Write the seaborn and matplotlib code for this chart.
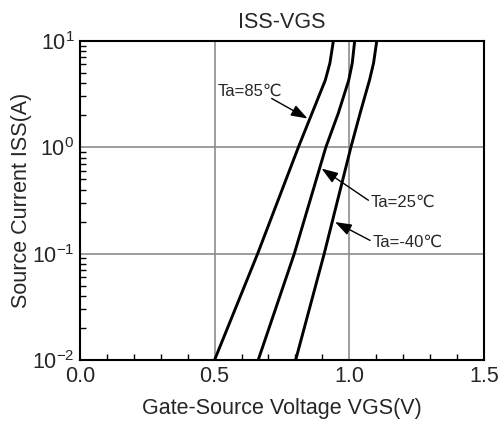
import numpy as np
import pandas as pd
import matplotlib
matplotlib.use("Agg")
import matplotlib.pyplot as plt
import seaborn as sns
from matplotlib.ticker import MultipleLocator, LogLocator, NullFormatter

# ---- data ----
temps = ["Ta=85\u2103", "Ta=25\u2103", "Ta=-40\u2103"]
i_85 = [0.01, 0.1, 1.0, 4.27, 6.17, 10.0]
v_85 = [0.500, 0.660, 0.811, 0.911, 0.928, 0.941]
i_25 = [0.01, 0.1, 1.0, 2.08, 4.27, 6.17, 10.0]
v_25 = [0.662, 0.796, 0.913, 0.959, 0.998, 1.011, 1.020]
i_m40 = [0.01, 0.1, 1.0, 2.08, 4.27, 6.17, 10.0]
v_m40 = [0.801, 0.907, 1.006, 1.040, 1.075, 1.090, 1.102]

x_ticks = [0.0, 0.5, 1.0, 1.5]
x_tick_labels = ["0.0", "0.5", "1.0", "1.5"]

title = "ISS-VGS"
xlabel = "Gate-Source Voltage VGS(V)"
ylabel = "Source Current ISS(A)"

frames = []
for t, v, i in zip(temps, [v_85, v_25, v_m40], [i_85, i_25, i_m40]):
    frames.append(pd.DataFrame({"V": v, "I": i, "T": t}))
df = pd.concat(frames, ignore_index=True)

sns.set_style("ticks")
plt.rcParams["font.family"] = ["Liberation Sans", "DejaVu Sans"]
plt.rcParams["mathtext.fontset"] = "custom"
plt.rcParams["mathtext.rm"] = "Liberation Sans"
plt.rcParams["mathtext.it"] = "Liberation Sans:italic"

fig = plt.figure(figsize=(4.99, 4.25), dpi=100)
ax = fig.add_axes([0.160, 0.153, 0.810, 0.751])

sns.lineplot(data=df, x="V", y="I", hue="T", palette=["black"] * 3,
             legend=False, sort=False, estimator=None, linewidth=2.1, ax=ax)
for ln in ax.get_lines():
    ln.set_solid_joinstyle("round")

ax.set_yscale("log")
ax.set_xlim(0, 1.5)
ax.set_ylim(1e-2, 1e1)
ax.set_xticks(x_ticks)
ax.set_xticklabels(x_tick_labels)
ax.xaxis.set_minor_locator(MultipleLocator(0.1))
ax.yaxis.set_major_locator(LogLocator(base=10))
ax.yaxis.set_minor_locator(LogLocator(base=10, subs=np.arange(2, 10)))
ax.yaxis.set_minor_formatter(NullFormatter())

ax.grid(True, which="major", color="#8c8c8c", linewidth=1.2)
ax.set_axisbelow(True)
ax.tick_params(which="both", direction="in", top=False, right=False,
               labelsize=15.5, color="black")
ax.tick_params(which="major", length=0, pad=4)
ax.tick_params(which="minor", length=4, width=1)
for s in ax.spines.values():
    s.set_color("black")
    s.set_linewidth(1.5)

ax.set_title(title, fontsize=15.5, pad=9)
ax.set_xlabel(xlabel, fontsize=15.5, labelpad=8)
ax.set_ylabel(ylabel, fontsize=15.5, labelpad=0)

fs = 12
arrow = dict(arrowstyle="-|>,head_length=1.0,head_width=0.35",
             color="black", lw=1.0, shrinkA=0, shrinkB=0)
ax.text(0.512, 3.36, temps[0], fontsize=fs, va="center", ha="left")
ax.annotate("", xy=(0.845, 1.86), xytext=(0.712, 2.87), arrowprops=arrow)
ax.text(1.079, 0.304, temps[1], fontsize=fs, va="center", ha="left")
ax.annotate("", xy=(0.897, 0.63), xytext=(1.071, 0.317), arrowprops=arrow)
ax.text(1.088, 0.128, temps[2], fontsize=fs, va="center", ha="left")
ax.annotate("", xy=(0.947, 0.198), xytext=(1.077, 0.133), arrowprops=arrow)

fig.savefig("out.png", dpi=100)
